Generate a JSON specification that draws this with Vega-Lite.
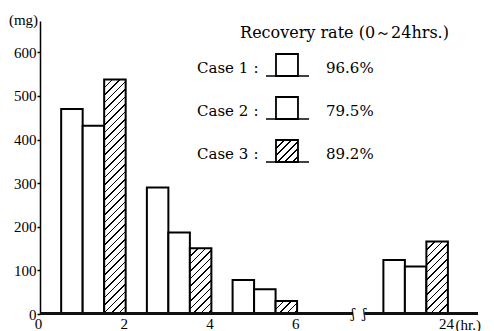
{
"$schema": "https://vega.github.io/schema/vega-lite/v6.json",
"width": 438, "height": 293,
"autosize": {"type": "none"},
"padding": {"left": 40, "top": 21, "right": 16, "bottom": 17},
"background": "white",
"config": {"view": {"stroke": null}},
"layer": [
{
"data": {"values": [
{"interval": "0-2", "end": 2, "case": "Case 1", "mg": 470},
{"interval": "0-2", "end": 2, "case": "Case 2", "mg": 432},
{"interval": "0-2", "end": 2, "case": "Case 3", "mg": 538},
{"interval": "2-4", "end": 4, "case": "Case 1", "mg": 290},
{"interval": "2-4", "end": 4, "case": "Case 2", "mg": 187},
{"interval": "2-4", "end": 4, "case": "Case 3", "mg": 151},
{"interval": "4-6", "end": 6, "case": "Case 1", "mg": 78},
{"interval": "4-6", "end": 6, "case": "Case 2", "mg": 57},
{"interval": "4-6", "end": 6, "case": "Case 3", "mg": 30},
{"interval": "6-24", "end": 24, "case": "Case 1", "mg": 124},
{"interval": "6-24", "end": 24, "case": "Case 2", "mg": 109},
{"interval": "6-24", "end": 24, "case": "Case 3", "mg": 166}
]},
"encoding": {
"x": {"field": "end", "type": "quantitative",
 "scale": {"domain": [0, 7, 23, 24.7], "range": [0, 300, 365, 438], "nice": false, "zero": false, "padding": 0},
 "axis": {"values": [0, 2, 4, 6, 24], "domain": false, "ticks": false, "grid": false, "labelOverlap": false, "labelFlush": false,
  "labelFont": "Liberation Serif", "labelFontSize": 15, "labelColor": "black", "labelPadding": 2, "labelOffset": -2,
  "title": "(hr.)", "titleFont": "Liberation Serif", "titleFontSize": 15, "titleFontWeight": "normal", "titleColor": "black",
  "titleX": 415, "titleY": 3, "titleAlign": "left", "titleBaseline": "top", "titleAngle": 0}},
"y": {"field": "mg", "type": "quantitative",
 "scale": {"domain": [0, 672], "nice": false},
 "axis": {"values": [0, 100, 200, 300, 400, 500, 600], "grid": false, "domainColor": "black", "domainWidth": 1.5, "zindex": 0,
  "tickColor": "black", "tickSize": 3, "tickWidth": 1.5,
  "labelFont": "Liberation Serif", "labelFontSize": 15, "labelColor": "black", "labelPadding": 1,
  "title": "(mg)", "titleFont": "Liberation Serif", "titleFontSize": 15, "titleFontWeight": "normal", "titleColor": "black",
  "titleAngle": 0, "titleX": -17, "titleY": -2, "titleAlign": "center", "titleBaseline": "middle"}}
},
"layer": [
{"transform": [{"filter": "datum.case === 'Case 1'"}],
 "mark": {"type": "bar", "orient": "vertical", "width": 21.5, "xOffset": -53.8, "fill": "white", "stroke": "black", "strokeWidth": 2}},
{"transform": [{"filter": "datum.case === 'Case 2'"}],
 "mark": {"type": "bar", "orient": "vertical", "width": 21.5, "xOffset": -32.3, "fill": "white", "stroke": "black", "strokeWidth": 2}},
{"transform": [{"filter": "datum.case === 'Case 3'"}],
 "mark": {"type": "bar", "orient": "vertical", "width": 21.5, "xOffset": -10.8, "stroke": "black", "strokeWidth": 2},
 "encoding": {"fill": {"condition": [
 {"test": "datum.end === 2", "value": {"gradient": "linear", "x1": 0, "y1": 0, "x2": 0.10172, "y2": 1.10975, "stops": [
{"offset":0,"color":"#000"},{"offset":0.0063,"color":"#000"},{"offset":0.0063,"color":"#fff"},{"offset":0.0286,"color":"#fff"},
{"offset":0.0286,"color":"#000"},{"offset":0.0349,"color":"#000"},{"offset":0.0349,"color":"#fff"},{"offset":0.0571,"color":"#fff"},
{"offset":0.0571,"color":"#000"},{"offset":0.0634,"color":"#000"},{"offset":0.0634,"color":"#fff"},{"offset":0.0857,"color":"#fff"},
{"offset":0.0857,"color":"#000"},{"offset":0.092,"color":"#000"},{"offset":0.092,"color":"#fff"},{"offset":0.1143,"color":"#fff"},
{"offset":0.1143,"color":"#000"},{"offset":0.1206,"color":"#000"},{"offset":0.1206,"color":"#fff"},{"offset":0.1429,"color":"#fff"},
{"offset":0.1429,"color":"#000"},{"offset":0.1491,"color":"#000"},{"offset":0.1491,"color":"#fff"},{"offset":0.1714,"color":"#fff"},
{"offset":0.1714,"color":"#000"},{"offset":0.1777,"color":"#000"},{"offset":0.1777,"color":"#fff"},{"offset":0.2,"color":"#fff"},
{"offset":0.2,"color":"#000"},{"offset":0.2063,"color":"#000"},{"offset":0.2063,"color":"#fff"},{"offset":0.2286,"color":"#fff"},
{"offset":0.2286,"color":"#000"},{"offset":0.2349,"color":"#000"},{"offset":0.2349,"color":"#fff"},{"offset":0.2571,"color":"#fff"},
{"offset":0.2571,"color":"#000"},{"offset":0.2634,"color":"#000"},{"offset":0.2634,"color":"#fff"},{"offset":0.2857,"color":"#fff"},
{"offset":0.2857,"color":"#000"},{"offset":0.292,"color":"#000"},{"offset":0.292,"color":"#fff"},{"offset":0.3143,"color":"#fff"},
{"offset":0.3143,"color":"#000"},{"offset":0.3206,"color":"#000"},{"offset":0.3206,"color":"#fff"},{"offset":0.3429,"color":"#fff"},
{"offset":0.3429,"color":"#000"},{"offset":0.3491,"color":"#000"},{"offset":0.3491,"color":"#fff"},{"offset":0.3714,"color":"#fff"},
{"offset":0.3714,"color":"#000"},{"offset":0.3777,"color":"#000"},{"offset":0.3777,"color":"#fff"},{"offset":0.4,"color":"#fff"},
{"offset":0.4,"color":"#000"},{"offset":0.4063,"color":"#000"},{"offset":0.4063,"color":"#fff"},{"offset":0.4286,"color":"#fff"},
{"offset":0.4286,"color":"#000"},{"offset":0.4349,"color":"#000"},{"offset":0.4349,"color":"#fff"},{"offset":0.4571,"color":"#fff"},
{"offset":0.4571,"color":"#000"},{"offset":0.4634,"color":"#000"},{"offset":0.4634,"color":"#fff"},{"offset":0.4857,"color":"#fff"},
{"offset":0.4857,"color":"#000"},{"offset":0.492,"color":"#000"},{"offset":0.492,"color":"#fff"},{"offset":0.5143,"color":"#fff"},
{"offset":0.5143,"color":"#000"},{"offset":0.5206,"color":"#000"},{"offset":0.5206,"color":"#fff"},{"offset":0.5429,"color":"#fff"},
{"offset":0.5429,"color":"#000"},{"offset":0.5491,"color":"#000"},{"offset":0.5491,"color":"#fff"},{"offset":0.5714,"color":"#fff"},
{"offset":0.5714,"color":"#000"},{"offset":0.5777,"color":"#000"},{"offset":0.5777,"color":"#fff"},{"offset":0.6,"color":"#fff"},
{"offset":0.6,"color":"#000"},{"offset":0.6063,"color":"#000"},{"offset":0.6063,"color":"#fff"},{"offset":0.6286,"color":"#fff"},
{"offset":0.6286,"color":"#000"},{"offset":0.6349,"color":"#000"},{"offset":0.6349,"color":"#fff"},{"offset":0.6571,"color":"#fff"},
{"offset":0.6571,"color":"#000"},{"offset":0.6634,"color":"#000"},{"offset":0.6634,"color":"#fff"},{"offset":0.6857,"color":"#fff"},
{"offset":0.6857,"color":"#000"},{"offset":0.692,"color":"#000"},{"offset":0.692,"color":"#fff"},{"offset":0.7143,"color":"#fff"},
{"offset":0.7143,"color":"#000"},{"offset":0.7206,"color":"#000"},{"offset":0.7206,"color":"#fff"},{"offset":0.7429,"color":"#fff"},
{"offset":0.7429,"color":"#000"},{"offset":0.7491,"color":"#000"},{"offset":0.7491,"color":"#fff"},{"offset":0.7714,"color":"#fff"},
{"offset":0.7714,"color":"#000"},{"offset":0.7777,"color":"#000"},{"offset":0.7777,"color":"#fff"},{"offset":0.8,"color":"#fff"},
{"offset":0.8,"color":"#000"},{"offset":0.8063,"color":"#000"},{"offset":0.8063,"color":"#fff"},{"offset":0.8286,"color":"#fff"},
{"offset":0.8286,"color":"#000"},{"offset":0.8349,"color":"#000"},{"offset":0.8349,"color":"#fff"},{"offset":0.8571,"color":"#fff"},
{"offset":0.8571,"color":"#000"},{"offset":0.8634,"color":"#000"},{"offset":0.8634,"color":"#fff"},{"offset":0.8857,"color":"#fff"},
{"offset":0.8857,"color":"#000"},{"offset":0.892,"color":"#000"},{"offset":0.892,"color":"#fff"},{"offset":0.9143,"color":"#fff"},
{"offset":0.9143,"color":"#000"},{"offset":0.9206,"color":"#000"},{"offset":0.9206,"color":"#fff"},{"offset":0.9429,"color":"#fff"},
{"offset":0.9429,"color":"#000"},{"offset":0.9491,"color":"#000"},{"offset":0.9491,"color":"#fff"},{"offset":0.9714,"color":"#fff"},
{"offset":0.9714,"color":"#000"},{"offset":0.9777,"color":"#000"},{"offset":0.9777,"color":"#fff"},{"offset":1,"color":"#fff"}
 ]}},
 {"test": "datum.end === 4", "value": {"gradient": "linear", "x1": 0, "y1": 0, "x2": 0.40336, "y2": 1.23522, "stops": [
{"offset":0,"color":"#000"},{"offset":0.0183,"color":"#000"},{"offset":0.0183,"color":"#fff"},{"offset":0.0833,"color":"#fff"},
{"offset":0.0833,"color":"#000"},{"offset":0.1017,"color":"#000"},{"offset":0.1017,"color":"#fff"},{"offset":0.1667,"color":"#fff"},
{"offset":0.1667,"color":"#000"},{"offset":0.185,"color":"#000"},{"offset":0.185,"color":"#fff"},{"offset":0.25,"color":"#fff"},
{"offset":0.25,"color":"#000"},{"offset":0.2683,"color":"#000"},{"offset":0.2683,"color":"#fff"},{"offset":0.3333,"color":"#fff"},
{"offset":0.3333,"color":"#000"},{"offset":0.3517,"color":"#000"},{"offset":0.3517,"color":"#fff"},{"offset":0.4167,"color":"#fff"},
{"offset":0.4167,"color":"#000"},{"offset":0.435,"color":"#000"},{"offset":0.435,"color":"#fff"},{"offset":0.5,"color":"#fff"},
{"offset":0.5,"color":"#000"},{"offset":0.5183,"color":"#000"},{"offset":0.5183,"color":"#fff"},{"offset":0.5833,"color":"#fff"},
{"offset":0.5833,"color":"#000"},{"offset":0.6017,"color":"#000"},{"offset":0.6017,"color":"#fff"},{"offset":0.6667,"color":"#fff"},
{"offset":0.6667,"color":"#000"},{"offset":0.685,"color":"#000"},{"offset":0.685,"color":"#fff"},{"offset":0.75,"color":"#fff"},
{"offset":0.75,"color":"#000"},{"offset":0.7683,"color":"#000"},{"offset":0.7683,"color":"#fff"},{"offset":0.8333,"color":"#fff"},
{"offset":0.8333,"color":"#000"},{"offset":0.8517,"color":"#000"},{"offset":0.8517,"color":"#fff"},{"offset":0.9167,"color":"#fff"},
{"offset":0.9167,"color":"#000"},{"offset":0.935,"color":"#000"},{"offset":0.935,"color":"#fff"},{"offset":1,"color":"#fff"}
 ]}},
 {"test": "datum.end === 6", "value": {"gradient": "linear", "x1": 0, "y1": 0, "x2": 1.27299, "y2": 0.77445, "stops": [
{"offset":0,"color":"#000"},{"offset":0.044,"color":"#000"},{"offset":0.044,"color":"#fff"},{"offset":0.2,"color":"#fff"},
{"offset":0.2,"color":"#000"},{"offset":0.244,"color":"#000"},{"offset":0.244,"color":"#fff"},{"offset":0.4,"color":"#fff"},
{"offset":0.4,"color":"#000"},{"offset":0.444,"color":"#000"},{"offset":0.444,"color":"#fff"},{"offset":0.6,"color":"#fff"},
{"offset":0.6,"color":"#000"},{"offset":0.644,"color":"#000"},{"offset":0.644,"color":"#fff"},{"offset":0.8,"color":"#fff"},
{"offset":0.8,"color":"#000"},{"offset":0.844,"color":"#000"},{"offset":0.844,"color":"#fff"},{"offset":1,"color":"#fff"}
 ]}},
 {"test": "datum.end === 24", "value": {"gradient": "linear", "x1": 0, "y1": 0, "x2": 0.36769, "y2": 1.23784, "stops": [
{"offset":0,"color":"#000"},{"offset":0.0169,"color":"#000"},{"offset":0.0169,"color":"#fff"},{"offset":0.0769,"color":"#fff"},
{"offset":0.0769,"color":"#000"},{"offset":0.0938,"color":"#000"},{"offset":0.0938,"color":"#fff"},{"offset":0.1538,"color":"#fff"},
{"offset":0.1538,"color":"#000"},{"offset":0.1708,"color":"#000"},{"offset":0.1708,"color":"#fff"},{"offset":0.2308,"color":"#fff"},
{"offset":0.2308,"color":"#000"},{"offset":0.2477,"color":"#000"},{"offset":0.2477,"color":"#fff"},{"offset":0.3077,"color":"#fff"},
{"offset":0.3077,"color":"#000"},{"offset":0.3246,"color":"#000"},{"offset":0.3246,"color":"#fff"},{"offset":0.3846,"color":"#fff"},
{"offset":0.3846,"color":"#000"},{"offset":0.4015,"color":"#000"},{"offset":0.4015,"color":"#fff"},{"offset":0.4615,"color":"#fff"},
{"offset":0.4615,"color":"#000"},{"offset":0.4785,"color":"#000"},{"offset":0.4785,"color":"#fff"},{"offset":0.5385,"color":"#fff"},
{"offset":0.5385,"color":"#000"},{"offset":0.5554,"color":"#000"},{"offset":0.5554,"color":"#fff"},{"offset":0.6154,"color":"#fff"},
{"offset":0.6154,"color":"#000"},{"offset":0.6323,"color":"#000"},{"offset":0.6323,"color":"#fff"},{"offset":0.6923,"color":"#fff"},
{"offset":0.6923,"color":"#000"},{"offset":0.7092,"color":"#000"},{"offset":0.7092,"color":"#fff"},{"offset":0.7692,"color":"#fff"},
{"offset":0.7692,"color":"#000"},{"offset":0.7862,"color":"#000"},{"offset":0.7862,"color":"#fff"},{"offset":0.8462,"color":"#fff"},
{"offset":0.8462,"color":"#000"},{"offset":0.8631,"color":"#000"},{"offset":0.8631,"color":"#fff"},{"offset":0.9231,"color":"#fff"},
{"offset":0.9231,"color":"#000"},{"offset":0.94,"color":"#000"},{"offset":0.94,"color":"#fff"},{"offset":1,"color":"#fff"}
 ]}}
 ], "value": "white"}}},
{"transform": [{"filter": "datum.case === 'Case 1' && datum.end === 2"}],
 "mark": {"type": "rule", "stroke": "#111", "strokeWidth": 3, "yOffset": -0.5},
 "encoding": {"x": {"datum": 0}, "x2": {"datum": 10.2}, "y": {"datum": 0}}},
{"transform": [{"filter": "datum.case === 'Case 1' && datum.end === 2"}],
 "mark": {"type": "rule", "stroke": "#111", "strokeWidth": 3, "yOffset": -0.5},
 "encoding": {"x": {"datum": 12.99}, "x2": {"datum": 24.7}, "y": {"datum": 0}}},
{"transform": [{"filter": "datum.case === 'Case 1' && datum.end === 2"}],
 "mark": {"type": "text", "text": "ʃ", "font": "DejaVu Serif", "fontSize": 12, "align": "center", "baseline": "middle", "fill": "black"},
 "encoding": {"x": {"datum": 10.2}, "y": {"datum": 0}}},
{"transform": [{"filter": "datum.case === 'Case 1' && datum.end === 2"}],
 "mark": {"type": "text", "text": "ʃ", "font": "DejaVu Serif", "fontSize": 12, "align": "center", "baseline": "middle", "fill": "black"},
 "encoding": {"x": {"datum": 12.99}, "y": {"datum": 0}}}
]
},
{
"data": {"values": [
{"case": "Case 1", "rate": "96.6%"},
{"case": "Case 2", "rate": "79.5%"},
{"case": "Case 3", "rate": "89.2%"}
]},
"encoding": {"y": {"field": "case", "type": "nominal", "scale": {"type": "point", "domain": ["Case 1", "Case 2", "Case 3"], "range": [47, 133], "padding": 0}, "axis": null}},
"layer": [
{"mark": {"type": "text", "align": "right", "baseline": "middle", "font": "DejaVu Serif", "fontSize": 15, "fill": "black"},
 "encoding": {"x": {"datum": 4.86}, "text": {"field": "case"}}},
{"mark": {"type": "text", "align": "center", "baseline": "middle", "font": "DejaVu Serif", "fontSize": 15, "fill": "black"},
 "encoding": {"x": {"datum": 5.04}, "text": {"value": ":"}}},
{"mark": {"type": "rule", "stroke": "black", "strokeWidth": 1.5, "yOffset": 8},
 "encoding": {"x": {"datum": 5.273}, "x2": {"datum": 6.277}}},
{"mark": {"type": "point", "shape": "square", "size": 484, "filled": true, "opacity": 1, "stroke": "black", "strokeWidth": 1.8, "yOffset": -3},
 "encoding": {"x": {"datum": 5.763}, "fill": {"condition": {"test": "datum.case === 'Case 3'", "value": {"gradient": "linear", "x1": 0, "y1": 0, "x2": 1.02273, "y2": 1.02273, "stops": [
{"offset":0,"color":"#000"},{"offset":0.0367,"color":"#000"},{"offset":0.0367,"color":"#fff"},{"offset":0.1667,"color":"#fff"},
{"offset":0.1667,"color":"#000"},{"offset":0.2033,"color":"#000"},{"offset":0.2033,"color":"#fff"},{"offset":0.3333,"color":"#fff"},
{"offset":0.3333,"color":"#000"},{"offset":0.37,"color":"#000"},{"offset":0.37,"color":"#fff"},{"offset":0.5,"color":"#fff"},
{"offset":0.5,"color":"#000"},{"offset":0.5367,"color":"#000"},{"offset":0.5367,"color":"#fff"},{"offset":0.6667,"color":"#fff"},
{"offset":0.6667,"color":"#000"},{"offset":0.7033,"color":"#000"},{"offset":0.7033,"color":"#fff"},{"offset":0.8333,"color":"#fff"},
{"offset":0.8333,"color":"#000"},{"offset":0.87,"color":"#000"},{"offset":0.87,"color":"#fff"},{"offset":1,"color":"#fff"}
 ]}}, "value": "white"}}},
{"mark": {"type": "text", "align": "left", "baseline": "middle", "font": "DejaVu Serif", "fontSize": 15, "fill": "black"},
 "encoding": {"x": {"datum": 6.673}, "text": {"field": "rate"}}},
{"data": {"values": [{}]}, "mark": {"type": "text", "align": "center", "baseline": "middle", "font": "DejaVu Serif", "fontSize": 16, "fill": "black", "yOffset": -35},
 "encoding": {"x": {"datum": 8.108}, "y": {"datum": "Case 1", "type": "nominal"}, "text": {"value": "Recovery rate (0～24hrs.)"}}}
]
}
],
"resolve": {"scale": {"y": "independent"}}
}
